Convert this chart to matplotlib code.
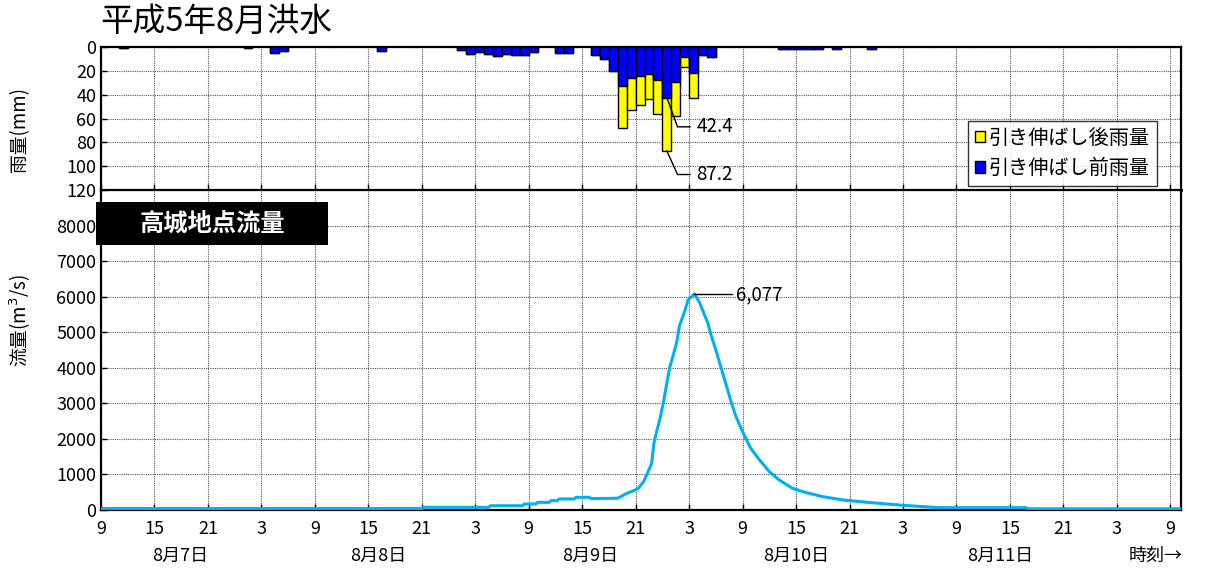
import numpy as np
import matplotlib.pyplot as plt
from matplotlib.patches import Patch, Rectangle

plt.rcParams['font.family'] = ['Noto Sans CJK JP', 'DejaVu Sans']

# hours counted from 8/7 9:00
rain_hour = [2, 16, 19, 20, 31, 40, 41, 42, 43, 44, 45, 46, 47, 48, 51, 52,
             55, 56, 57, 58, 59, 60, 61, 62, 63, 64, 65, 66, 67, 68,
             76, 77, 78, 79, 80, 82, 86]
rain_before = [1, 1, 5, 3.5, 3, 2.5, 6, 4.5, 6, 7.5, 6, 6.5, 6.5, 4, 5, 5,
               6.5, 10, 20, 33, 26, 24.5, 22.5, 27.5, 42.4, 29, 8.5, 21.5, 7, 8,
               1.5, 1.5, 1.5, 1.5, 1.5, 1.5, 1.5]
rain_after = [1, 1, 5, 3.5, 3, 2.5, 6, 4.5, 6, 7.5, 6, 6.5, 6.5, 4, 5, 5,
              6.5, 10, 20, 68, 53, 49, 44, 56, 87.2, 57.5, 17, 43, 7, 8,
              1.5, 1.5, 1.5, 1.5, 1.5, 1.5, 1.5]

flow_hour = [0, 36, 36.2, 43.5, 43.7, 47.3, 47.5, 48.8, 49, 50.3, 50.5, 51.2,
             51.4, 53.1, 53.3, 54.8, 55, 57.9, 58.2, 59, 59.7, 60.3, 60.9,
             61.4, 61.8, 62.05, 62.35, 62.7, 63.1, 63.5, 63.8, 64.6, 64.9,
             65.5, 65.9, 66.6, 67.2, 67.5, 68.1, 68.4, 69.0, 69.6, 70.1, 70.7,
             71.25, 72.0, 72.9, 73.9, 75.0, 76.1, 77.6, 79.1, 81.0, 83.3,
             86.4, 89.6, 93.9, 103.8, 104, 121.2]
flow_q = [40, 40, 75, 75, 120, 120, 170, 170, 215, 215, 263, 263,
          310, 310, 357, 357, 320, 330, 357, 470, 535, 610, 800,
          1080, 1315, 1880, 2200, 2535, 3000, 3570, 3990, 4700, 5165,
          5590, 5915, 6077, 5820, 5630, 5260, 4975, 4500, 3990, 3570, 3050,
          2630, 2205, 1740, 1410, 1080, 845, 610, 490, 375, 280,
          207, 140, 66, 66, 35, 35]

hour_ticks = list(range(0, 121, 6))
hour_labels = ['9', '15', '21', '3'] * 5 + ['9']
day_labels = ['8月7日', '8月8日', '8月9日', '8月10日', '8月11日']
day_pos = [8.9, 31.1, 54.9, 78.0, 100.9]

W, H = 1205, 572
fig = plt.figure(figsize=(W / 100, H / 100), dpi=100)
ax_r = fig.add_axes([101 / W, 1 - 190 / H, 1080 / W, 143 / H])
ax_q = fig.add_axes([101 / W, 1 - 510 / H, 1080 / W, 320 / H])

grid_kw = dict(color='#555555', linestyle=(0, (1, 1)), linewidth=0.8)
for ax in (ax_r, ax_q):
    ax.set_xlim(0, 121.2)
    ax.set_xticks(hour_ticks)
    ax.grid(True, **grid_kw)
    ax.set_axisbelow(True)
    ax.tick_params(direction='in', length=4, width=1, labelsize=13)
    for s in ax.spines.values():
        s.set_linewidth(1.6)

# rainfall (inverted)
ax_r.bar(rain_hour, rain_after, width=1, align='edge', color='#FFFF00',
         edgecolor='k', linewidth=1, zorder=2)
ax_r.bar(rain_hour, rain_before, width=1, align='edge', color='#0000FF',
         edgecolor='k', linewidth=1, zorder=3)
ax_r.set_ylim(120, 0)
ax_r.set_yticks(range(0, 121, 20))
ax_r.tick_params(axis='x', labelbottom=False)
ax_r.spines['bottom'].set_linewidth(2)

k = rain_after.index(max(rain_after))
xc = rain_hour[k] + 0.5
for val, ylab in ((rain_before[k], 67.0), (rain_after[k], 107.0)):
    ax_r.plot([xc, xc + 1.2, xc + 2.6], [val, ylab, ylab], color='k', lw=1,
              zorder=4, clip_on=False)
    ax_r.text(xc + 3.3, ylab, f'{val:.1f}', fontsize=13.5, va='center',
              ha='left', zorder=4)

handles = [Patch(facecolor='#FFFF00', edgecolor='k', label='引き伸ばし後雨量'),
           Patch(facecolor='#0000FF', edgecolor='k', label='引き伸ばし前雨量')]
leg = ax_r.legend(handles=handles, loc='lower right',
                  bbox_to_anchor=(1 - 24 / 1080, 4 / 143), fontsize=14.5,
                  frameon=True, fancybox=False, edgecolor='k',
                  handlelength=0.5, handleheight=0.5, handletextpad=0.2,
                  borderpad=0.35, labelspacing=0.45, borderaxespad=0)
leg.get_frame().set_linewidth(1)

# discharge
ax_q.plot(flow_hour, flow_q, color='#00B0F0', lw=2.2, zorder=3)
ax_q.set_ylim(0, 9000)
ax_q.set_yticks(range(0, 9001, 1000))
ax_q.set_yticklabels([str(v) for v in range(0, 8001, 1000)] + [''])
ax_q.set_xticklabels(hour_labels)
ax_q.tick_params(axis='x', pad=7)

p = flow_q.index(max(flow_q))
ph, pq = flow_hour[p], flow_q[p]
ax_q.plot([ph, ph + 4.2], [pq, pq], color='k', lw=1, zorder=4)
ax_q.text(ph + 4.7, pq - 20, f'{pq:,}', fontsize=13.5, va='center', ha='left')

tr = ax_q.get_xaxis_transform()
for lab, x in zip(day_labels, day_pos):
    ax_q.text(x, -0.145, lab, transform=tr, ha='center', va='center',
              fontsize=13)
ax_q.text(118.4, -0.145, '時刻→', transform=tr, ha='center', va='center',
          fontsize=13)

# station label box
fig.patches.append(Rectangle((96 / W, 1 - 245 / H), 232 / W, 43 / H,
                             transform=fig.transFigure, facecolor='k',
                             edgecolor='none', zorder=5))
fig.text(212 / W, 1 - 224 / H, '高城地点流量', color='white', fontsize=17.5,
         fontweight='bold', ha='center', va='center', zorder=6)

fig.text(100 / W, 1 - 22 / H, '平成5年8月洪水', fontsize=23.5, ha='left',
         va='center')
fig.text(20 / W, 1 - 130 / H, '雨量(mm)', rotation=90, fontsize=13.5,
         ha='center', va='center')
fig.text(20 / W, 1 - 320 / H, '流量(m$^3$/s)', rotation=90, fontsize=13.5,
         ha='center', va='center')

fig.savefig('out.png', dpi=100)
